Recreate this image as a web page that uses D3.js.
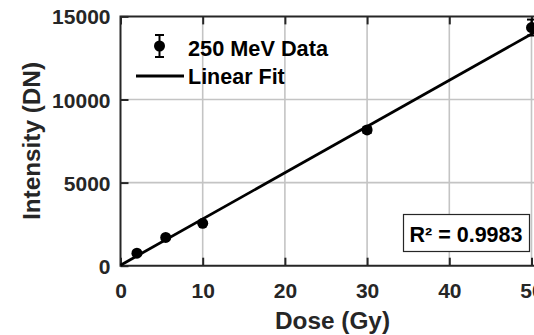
<!DOCTYPE html>
<meta charset="utf-8">
<style>
body { margin: 0; background: #fff; }
text { font-family: "Liberation Sans", Arial, Helvetica, sans-serif; font-weight: bold; fill: #262626; }
.grid line { stroke: #c4c4c4; stroke-width: 1.6px; }
.frame { stroke: #262626; stroke-width: 2px; fill: none; }
</style>
<svg width="534" height="335"></svg>
<script src="https://d3js.org/d3.v7.min.js"></script>
<script>

// measured data (dose in Gy, intensity in DN)
var dose = [2, 5.5, 10, 30, 50];
var intensity = [750, 1700, 2550, 8170, 14330];
var errs = [60, 80, 90, 180, 480];

// fit line end points
var fitDose = [0, 55];
var fitVal = [30, 15330];

var xTicks = [0, 10, 20, 30, 40, 50];
var yTicks = [0, 5000, 10000, 15000];
var rSquared = "R\u00b2 = 0.9983";

var svg = d3.select("svg");

var x = d3.scaleLinear().domain([0, 55]).range([120.5, 120.5 + 55 * 8.22]);
var y = d3.scaleLinear().domain([0, 15000]).range([265.7, 16.4]);

// grid
var grid = svg.append("g").attr("class", "grid");
grid.selectAll(".gx").data(xTicks.slice(1)).enter().append("line")
    .attr("x1", x).attr("x2", x).attr("y1", y(0)).attr("y2", y(15000));
grid.selectAll(".gy").data(yTicks.slice(1, 3)).enter().append("line")
    .attr("x1", x(0)).attr("x2", 534).attr("y1", y).attr("y2", y);

// axes, ticks inward
var xAxis = d3.axisBottom(x).tickValues(xTicks).tickSize(-8).tickPadding(17).tickFormat(d3.format("d"));
var yAxis = d3.axisLeft(y).tickValues(yTicks).tickSize(-8).tickPadding(10).tickFormat(d3.format("d"));
var xTop = d3.axisTop(x).tickValues(xTicks).tickSize(-8).tickFormat("");

function style(g) {
  g.select(".domain").remove();
  g.selectAll(".tick line").attr("stroke", "#262626").attr("stroke-width", 2);
  g.selectAll(".tick text").attr("fill", "#262626").style("font-size", "21px").style("font-family", null);
}

svg.append("g").attr("transform", "translate(0," + y(0) + ")").call(xAxis).call(style);
svg.append("g").attr("transform", "translate(" + x(0) + ",0)").call(yAxis).call(style)
  .selectAll(".tick text").attr("dy", "0.36em");
svg.append("g").attr("transform", "translate(0," + y(15000) + ")").call(xTop).call(style);

svg.append("path").attr("class", "frame")
    .attr("d", "M534," + y(15000) + "H" + x(0) + "V" + y(0) + "H534");

// fit line
var line = d3.line().x(function(d) { return x(d[0]); }).y(function(d) { return y(d[1]); });
svg.append("path")
    .datum(d3.zip(fitDose, fitVal))
    .attr("d", line)
    .attr("fill", "none").attr("stroke", "#000").attr("stroke-width", 2.8);

// error bars
var pts = d3.zip(dose, intensity, errs);
var eb = svg.append("g").selectAll("g").data(pts).enter().append("g");
eb.append("line")
    .attr("x1", function(d) { return x(d[0]); }).attr("x2", function(d) { return x(d[0]); })
    .attr("y1", function(d) { return y(d[1] - d[2]); }).attr("y2", function(d) { return y(d[1] + d[2]); })
    .attr("stroke", "#000").attr("stroke-width", 2);
eb.selectAll(".cap").data(function(d) { return [[d[0], d[1] - d[2]], [d[0], d[1] + d[2]]]; })
  .enter().append("line")
    .attr("x1", function(d) { return x(d[0]) - 4.5; }).attr("x2", function(d) { return x(d[0]) + 4.5; })
    .attr("y1", function(d) { return y(d[1]); }).attr("y2", function(d) { return y(d[1]); })
    .attr("stroke", "#000").attr("stroke-width", 2);
eb.append("circle")
    .attr("cx", function(d) { return x(d[0]); }).attr("cy", function(d) { return y(d[1]); })
    .attr("r", 5.5).attr("fill", "#000");

// legend
var lg = svg.append("g");
lg.append("line").attr("x1", 159.5).attr("x2", 159.5).attr("y1", 35).attr("y2", 57).attr("stroke", "#000").attr("stroke-width", 2);
lg.append("line").attr("x1", 155).attr("x2", 164).attr("y1", 35).attr("y2", 35).attr("stroke", "#000").attr("stroke-width", 2);
lg.append("line").attr("x1", 155).attr("x2", 164).attr("y1", 57).attr("y2", 57).attr("stroke", "#000").attr("stroke-width", 2);
lg.append("circle").attr("cx", 159.5).attr("cy", 46).attr("r", 5.5).attr("fill", "#000");
lg.append("text").attr("x", 188).attr("y", 55.5).style("font-size", "21.5px").style("fill", "#000")
    .attr("textLength", 140).attr("lengthAdjust", "spacingAndGlyphs").text("250 MeV Data");
lg.append("line").attr("x1", 136).attr("x2", 184).attr("y1", 76).attr("y2", 76).attr("stroke", "#000").attr("stroke-width", 2.8);
lg.append("text").attr("x", 188).attr("y", 84).style("font-size", "21.5px").style("fill", "#000").text("Linear Fit");

// R squared box
svg.append("rect").attr("x", 403.5).attr("y", 214.5).attr("width", 126).attr("height", 37)
    .attr("fill", "#fff").attr("stroke", "#262626").attr("stroke-width", 1.2);
svg.append("text").attr("x", 466).attr("y", 241.5).attr("text-anchor", "middle")
    .style("font-size", "21.5px").style("fill", "#000").text(rSquared);

// axis titles
svg.append("text").attr("x", 332.5).attr("y", 328.5).attr("text-anchor", "middle")
    .style("font-size", "23.5px").attr("textLength", 115).attr("lengthAdjust", "spacingAndGlyphs").text("Dose (Gy)");
svg.append("text").attr("transform", "translate(40,141) rotate(-90)").attr("text-anchor", "middle")
    .style("font-size", "24px").attr("textLength", 158).attr("lengthAdjust", "spacingAndGlyphs").text("Intensity (DN)");

</script>
